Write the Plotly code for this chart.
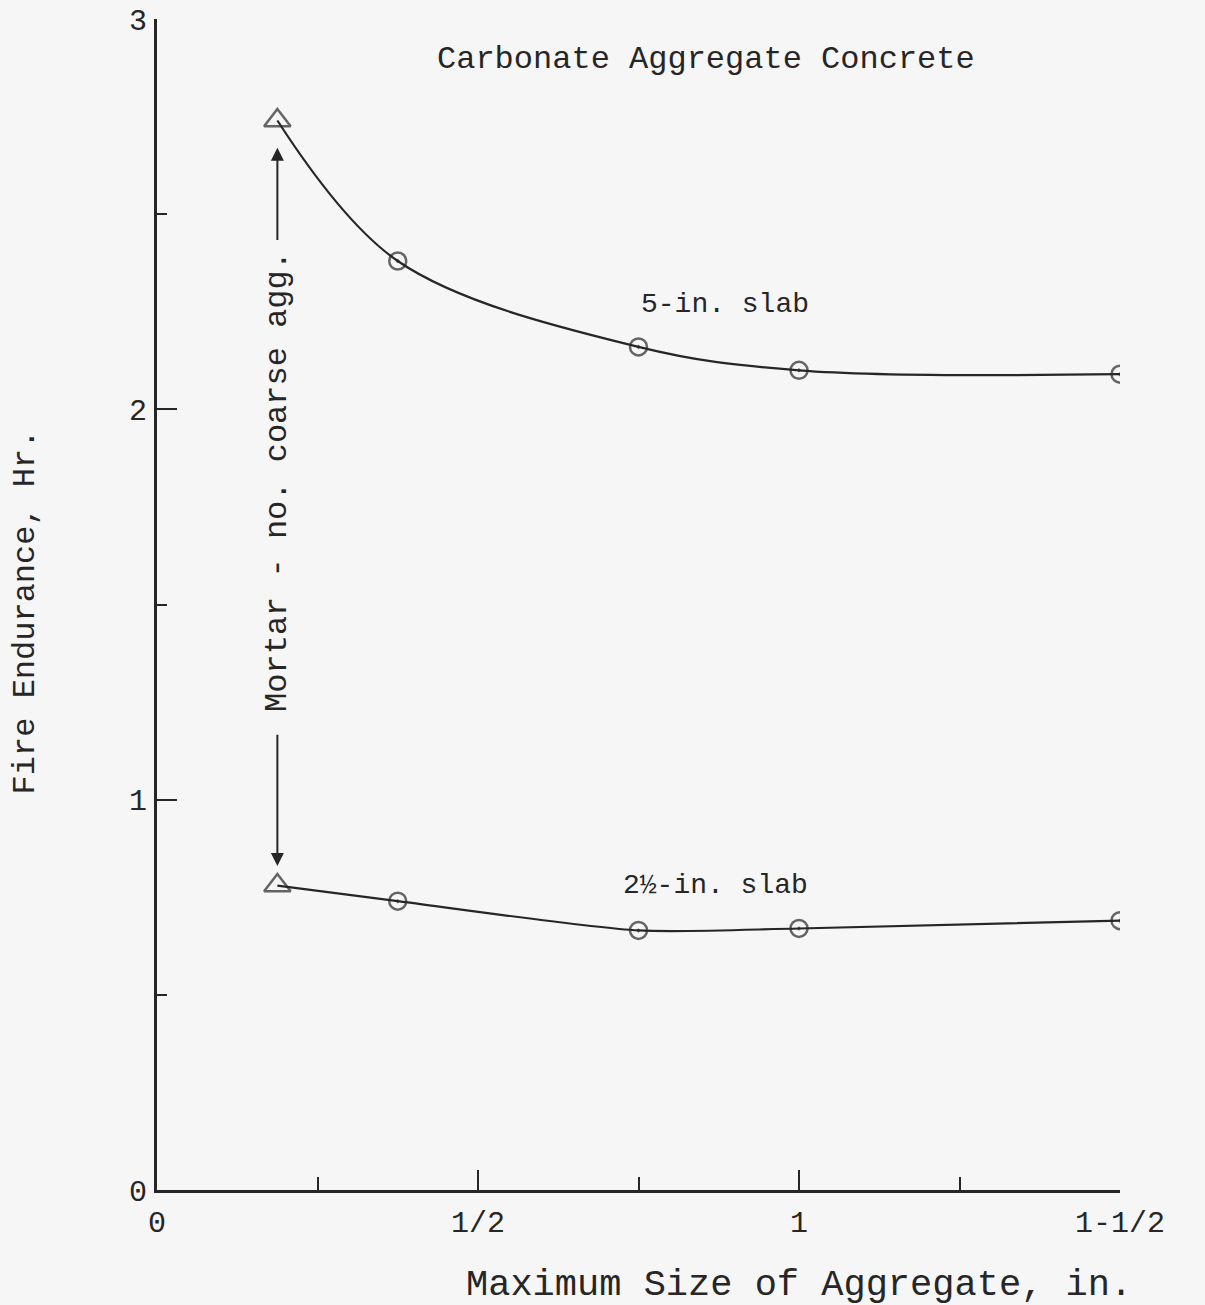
import plotly.graph_objects as go

# ---- data ----
agg_size = [0.1875, 0.375, 0.75, 1.0, 1.5]          # in.
slab5_hr = [2.74, 2.38, 2.16, 2.10, 2.09]
slab25_hr = [0.78, 0.74, 0.665, 0.67, 0.69]
x_tickvals = [0, 0.5, 1, 1.5]
x_ticktext = ["0", "1/2", "1", "1-1/2"]
y_tickvals = [0, 1, 2, 3]
y_ticktext = ["0", "1", "2", "3"]

INK = "#262626"
BG = "#f6f6f6"
MONO = "Liberation Mono, Courier New, monospace"

marker_symbols = ["triangle-up-open"] + ["circle-open-dot"] * (len(agg_size) - 1)
marker_sizes = [23] + [17] * (len(agg_size) - 1)

fig = go.Figure()
for ys, sm in ((slab5_hr, 1.0), (slab25_hr, 0.7)):
    fig.add_trace(go.Scatter(
        x=agg_size, y=ys, mode="lines+markers",
        line=dict(color=INK, width=2.2, shape="spline", smoothing=sm),
        marker=dict(symbol=marker_symbols, size=marker_sizes, color=INK,
                    line=dict(color=INK, width=2.5)),
        showlegend=False, hoverinfo="skip",
    ))

mortar_x = agg_size[0]
annotations = [
    dict(text="Carbonate Aggregate Concrete", x=0.855, y=2.895, xref="x", yref="y",
         xanchor="center", yanchor="middle",
         showarrow=False, font=dict(family=MONO, size=32, color=INK)),
    dict(text="5-in. slab", x=0.885, y=2.268, xref="x", yref="y",
         xanchor="center", yanchor="middle",
         showarrow=False, font=dict(family=MONO, size=28, color=INK)),
    dict(text="2½-in. slab", x=0.87, y=0.78, xref="x", yref="y",
         xanchor="center", yanchor="middle",
         showarrow=False, font=dict(family=MONO, size=28, color=INK)),
    dict(text="Mortar - no. coarse agg.", x=mortar_x, y=1.815, xref="x", yref="y",
         xanchor="center", yanchor="middle",
         textangle=-90, showarrow=False, font=dict(family=MONO, size=32, color=INK)),
    # arrows
    dict(text="", x=mortar_x, y=2.67, ax=mortar_x, ay=2.43, xref="x", yref="y",
         axref="x", ayref="y", showarrow=True, arrowhead=2, arrowsize=1.3,
         arrowwidth=2, arrowcolor=INK),
    dict(text="", x=mortar_x, y=0.83, ax=mortar_x, ay=1.17, xref="x", yref="y",
         axref="x", ayref="y", showarrow=True, arrowhead=2, arrowsize=1.3,
         arrowwidth=2, arrowcolor=INK),
    # axis titles
    dict(text="Fire Endurance, Hr.", x=-0.137, y=1.48, xref="paper", yref="y",
         xanchor="center", yanchor="middle",
         textangle=-90, showarrow=False, font=dict(family=MONO, size=32, color=INK)),
    dict(text="Maximum Size of Aggregate, in.", x=1.0, y=-0.081, xref="x", yref="paper",
         xanchor="center", yanchor="middle",
         showarrow=False, font=dict(family=MONO, size=37, color=INK)),
]

fig.update_layout(
    width=1205, height=1305,
    margin=dict(l=157, r=85, t=19, b=115, autoexpand=False),
    paper_bgcolor=BG, plot_bgcolor=BG,
    annotations=annotations,
    xaxis=dict(
        range=[0, 1.5], showgrid=False, zeroline=False, automargin=False,
        showline=True, linewidth=3, linecolor=INK,
        tickmode="array", tickvals=x_tickvals, ticktext=x_ticktext,
        ticks="inside", ticklen=20, tickwidth=2, tickcolor=INK,
        ticklabelstandoff=3, ticklabeloverflow="allow",
        tickfont=dict(family=MONO, size=30, color=INK),
        minor=dict(dtick=0.25, tick0=0, ticks="inside", ticklen=13,
                   tickwidth=2, tickcolor=INK, showgrid=False),
    ),
    yaxis=dict(
        range=[0, 3], showgrid=False, zeroline=False, automargin=False,
        showline=True, linewidth=3, linecolor=INK,
        tickmode="array", tickvals=y_tickvals, ticktext=y_ticktext,
        ticks="inside", ticklen=20, tickwidth=2, tickcolor=INK,
        ticklabelstandoff=1, ticklabeloverflow="allow",
        tickfont=dict(family=MONO, size=30, color=INK),
        minor=dict(dtick=0.5, tick0=0, ticks="inside", ticklen=10,
                   tickwidth=2, tickcolor=INK, showgrid=False),
    ),
)

fig.write_html(
    "out.html",
    config={"displayModeBar": False},
    post_script=("document.body.style.margin='0';"
                 "document.body.style.overflow='hidden';"
                 "document.documentElement.style.overflow='hidden';"
                 "document.body.style.background='%s';" % BG),
)
